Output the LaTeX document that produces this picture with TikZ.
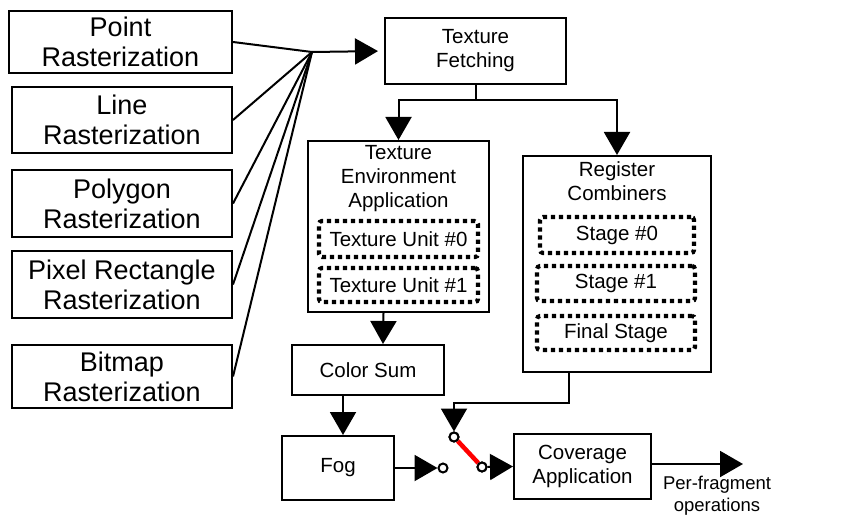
\documentclass[tikz,border=0pt]{standalone}
\usepackage{fontspec}
\setmainfont{Liberation Sans}
\usetikzlibrary{arrows.meta,positioning}
\begin{document}
\begin{tikzpicture}[x=1pt,y=-1pt,
  line width=2pt,
  bigbox/.style={draw, line width=2pt, inner sep=0pt, align=center,
    font=\fontsize{27}{30}\selectfont},
  midbox/.style={draw, line width=2pt, inner sep=0pt, align=center,
    font=\fontsize{20.5}{24}\selectfont},
  plaintext/.style={inner sep=0pt, align=center, font=\fontsize{20.5}{24}\selectfont},
  dotbox/.style={draw, line width=4.2pt, dash pattern=on 4.2pt off 3.8pt, rounded corners=3pt,
    inner sep=0pt, align=center, font=\fontsize{20.5}{24}\selectfont},
  arr/.style={-{Triangle[length=23pt,width=26pt]}, line width=2pt},
  sw/.style={circle, draw, fill=white, line width=2pt, minimum size=9pt, inner sep=0pt}
]
\useasboundingbox (0,0) rectangle (848,516);

% left column
\node[bigbox, minimum width=223pt, minimum height=62pt] (pt) at (120.5,42) {Point\\Rasterization};
\node[bigbox, minimum width=220pt, minimum height=66pt] (ln) at (122,120) {Line\\Rasterization};
\node[bigbox, minimum width=220pt, minimum height=67pt] (pg) at (122,203.5) {Polygon\\Rasterization};
\node[bigbox, minimum width=220pt, minimum height=67pt] (px) at (122,284.5) {Pixel Rectangle\\Rasterization};
\node[bigbox, minimum width=220pt, minimum height=63pt] (bm) at (122,376.5) {Bitmap\\Rasterization};

\coordinate (fan) at (312,52);
\foreach \n in {pt,ln,pg,px,bm} \draw (\n.east) -- (fan);

% texture fetching
\node[midbox, minimum width=181pt, minimum height=66pt] (tf) at (475.5,51) {Texture\\Fetching};
\draw[arr, shorten >=6pt] (fan) -- (tf.west);

% texture environment
\node[draw, line width=2pt, minimum width=181pt, minimum height=171pt, inner sep=0pt] (te) at (398.5,226.5) {};
\node[plaintext] (tetitle) at (398.5,179) {Texture\\Environment\\Application};
\node[dotbox, minimum width=159pt, minimum height=36pt] (tu0) at (398.5,239) {Texture Unit \#0};
\node[dotbox, minimum width=159pt, minimum height=34pt] (tu1) at (398.5,285) {Texture Unit \#1};

% register combiners
\node[draw, line width=2pt, minimum width=188pt, minimum height=216pt, inner sep=0pt] (rc) at (617,264) {};
\node[plaintext] (rctitle) at (617,181.5) {Register\\Combiners};
\node[dotbox, minimum width=154pt, minimum height=36pt] (s0) at (617,235) {Stage \#0};
\node[dotbox, minimum width=158pt, minimum height=35pt] (s1) at (616,283.5) {Stage \#1};
\node[dotbox, minimum width=158pt, minimum height=34pt] (sf) at (616,333) {Final Stage};

\draw[arr] (tf.south) -- ++(0,15) -| (te.north);
\draw[arr] (tf.south) -- ++(0,15) -| (rc.north);

% color sum, fog
\node[midbox, minimum width=152pt, minimum height=50pt] (cs) at (368,370) {Color Sum};
\node[midbox, minimum width=112pt, minimum height=64pt] (fog) at (338,468) {Fog};
\draw[arr] ([xshift=-15pt]te.south) -- ([xshift=15pt]cs.north);
\draw[arr] ([xshift=-25pt]cs.south) -- ([xshift=5pt]fog.north);

% switch
\node[sw] (cf) at (443,468) {};
\node[sw] (ct) at (454,437) {};
\node[sw] (co) at (482,467) {};
\draw[arr] (fog.east) -- (cf.west);
\draw[red, line width=4.5pt] (ct) -- (co);
\node[sw] at (ct) {};
\node[sw] at (co) {};
\draw[arr] ([xshift=-48pt]rc.south) -- ++(0,30) -| (ct.north);

% coverage
\node[midbox, minimum width=137pt, minimum height=65pt] (cov) at (582.5,466.5) {Coverage\\Application};
\draw[arr] (co.east) -- (cov.west);
\coordinate (out) at (743,464);
\draw[arr] (cov.east |- out) -- (out);
\node[inner sep=0pt, align=center, font=\fontsize{18.5}{22}\selectfont] (pf) at (717,496) {Per-fragment\\operations};
\end{tikzpicture}
\end{document}
